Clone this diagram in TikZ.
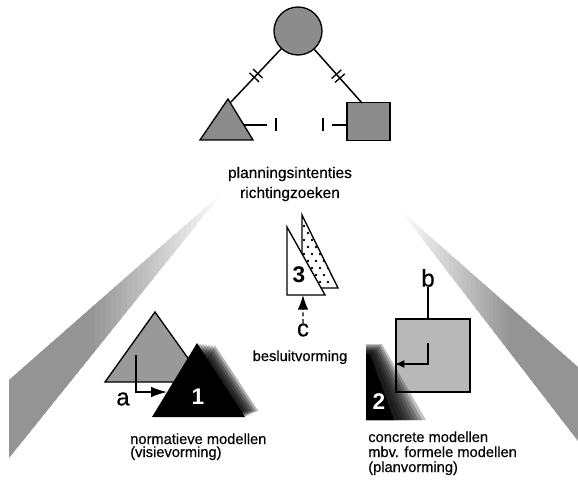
\documentclass[tikz,border=0pt]{standalone}
\usepackage{fontspec}
\setmainfont{Liberation Sans}
\newfontfamily\heavysans{Liberation Sans}[FakeBold=0.4]
\usetikzlibrary{arrows.meta,decorations.markings,calc}

% a wedge of light: apex, then the two corners of its wide end
\newcommand\lightwedge[3]{%
  \foreach \i in {0,...,39}{
    \pgfmathsetmacro\ta{\i/40}
    \pgfmathsetmacro\tb{min(1,(\i+1.4)/40)}
    \pgfmathsetmacro\g{42*min(1,(\i+0.5)/40/0.62)}
    \fill[black!\g] ($(#1)!\ta!(#2)$) -- ($(#1)!\tb!(#2)$) -- ($(#1)!\tb!(#3)$) -- ($(#1)!\ta!(#3)$) -- cycle;
  }}

\begin{document}
\begin{tikzpicture}[x=0.75pt,y=-0.75pt,
  outline/.style={draw=black,line width=1pt,line join=miter},
  link/.style={line width=1.1pt},
  halftone/.style={fill=black!45},
  cut/.style={postaction={decorate},decoration={markings,
      mark=at position 0.5 with {\draw[line width=1pt] (-2.6,-6.5) -- (-2.6,6.5) (2.6,-6.5) -- (2.6,6.5);}}},
  title/.style={font=\heavysans\fontsize{11.6}{14}\selectfont,inner sep=0pt,anchor=base},
  caption/.style={font=\heavysans\fontsize{11}{13}\selectfont,inner sep=0pt,anchor=base west},
  letter/.style={font=\heavysans\fontsize{18}{20}\selectfont,inner sep=0pt},
  digit/.style={font=\fontsize{17}{20}\selectfont\bfseries,inner sep=0pt},
  tip/.style={-{Latex[length=11pt,width=8pt]}}]
\useasboundingbox (0,0) rectangle (578,481);

% light wedges fanning out from the centre
\coordinate (lwA) at (223,192);
\coordinate (lwU) at (9,380);
\coordinate (lwD) at (9,458);
\lightwedge{lwA}{lwU}{lwD}
\coordinate (rwA) at (400,210);
\coordinate (rwU) at (578,367);
\coordinate (rwD) at (578,441);
\lightwedge{rwA}{rwU}{rwD}

% ---- top: whole and its two parts ----
\node[circle,minimum size=36pt,inner sep=0pt,halftone,outline] (whole) at (298,31) {};
\coordinate (tA) at (228,99);
\coordinate (tL) at (200,140);
\coordinate (tR) at (253,140);
\filldraw[halftone,outline] (tA) -- (tL) -- (tR) -- cycle;
\node[rectangle,minimum width=32.25pt,minimum height=28.5pt,inner sep=0pt,halftone,outline]
  (part) at (368.5,121.5) {};

\coordinate (tHit) at (231,102);
\coordinate (sHit) at (362,103);
\draw[link,cut] (whole) -- (tHit);
\draw[link,cut] (whole) -- (sHit);

\coordinate (tSide) at (243,125);
\coordinate (tEnd) at (267,125);
\coordinate (tickL) at (276,125);
\coordinate (tickR) at (323,125);
\coordinate (sStart) at (332,125);
\draw[link] (tSide) -- (tEnd);
\draw[link] ($(tickL)+(0,-6.5)$) -- ($(tickL)+(0,6.5)$);
\draw[link] ($(tickR)+(0,-6.5)$) -- ($(tickR)+(0,6.5)$);
\draw[link] (sStart) -- (sStart -| part.west);

\node[title] (intent) at (290,178) {planningsintenties};
\node[title] (search) at (290,198) {richtingzoeken};

% ---- centre: stacked sheets ----
\coordinate (dA) at (302,215);
\coordinate (dB) at (302,288);
\coordinate (dC) at (338,288);
\filldraw[fill=white,outline] (dA) -- (dB) -- (dC) -- cycle;
\begin{scope}
  \clip (dA) -- (dB) -- (dC) -- cycle;
  \foreach \r in {0,...,10}{
    \foreach \c in {0,...,5}{
      \fill ({304+8*\c+4*mod(\r,2)},{226+7*\r}) circle (1pt);
    }
  }
\end{scope}
\coordinate (fA) at (287,227);
\coordinate (fB) at (287,295);
\coordinate (fC) at (325,295);
\filldraw[fill=white,outline] (fA) -- (fB) -- (fC) -- cycle;
\node[digit] (n3) at (299,275) {3};

\node[letter] (c) at (303,330) {c};
\draw[link,tip,densely dashed] (c.north) -- ($(fB)!0.42!(fC)$);
\node[caption,anchor=base] (decide) at (300,361) {besluitvorming};

% ---- left: normative models ----
\coordinate (gA) at (155,312);
\coordinate (gL) at (105,382);
\coordinate (gR) at (205,382);
\filldraw[fill=black!40,outline] (gA) -- (gL) -- (gR) -- cycle;

\coordinate (kA) at (197,343);
\coordinate (kL) at (152,417);
\coordinate (kR) at (245,417);
% blurred after-image of the dark sheet
\foreach \k in {6,...,1}{
  \fill[black,opacity=0.3] ($(kA)+(3*\k,0.4*\k)$) -- ($(kL)+(4*\k,-\k)$) -- ($(kR)+(2.2*\k,-\k)$) -- cycle;
}
\fill[black] (kA) -- (kL) -- (kR) -- cycle;
\node[digit,text=white] (n1) at (198,397) {1};

\coordinate (aTop) at (136,355);
\coordinate (aEnd) at (167,392);
\draw[link,-{Latex[length=12pt,width=8pt]}] (aTop) |- (aEnd);
\node[letter] (a) at (123,399) {a};

\node[caption] (norm1) at (130,444) {normatieve modellen};
\node[caption] (norm2) at (130,457) {(visievorming)};

% ---- right: concrete models ----
\node[rectangle,minimum width=55.5pt,minimum height=54.75pt,inner sep=0pt,fill=black!28,outline]
  (concrete) at (433,355.5) {};
\node[letter] (b) at (428,278) {b};
\draw[link] (b.south) -- (b.south |- concrete.north);

% blurred dark patch
\foreach \k in {0,...,7}{
  \fill[black,opacity=0.24] (366,{344+1.2*\k}) -- ({382-1.3*\k},{344+1.2*\k}) -- ({426-3.8*\k},420) -- (366,420) -- cycle;
}
\fill[black] (366,354) -- (370,354) -- (394,420) -- (366,420) -- cycle;
\node[digit,text=white] (n2) at (379,402) {2};

\coordinate (bStart) at (428,343);
\coordinate (bEnd) at (395,364);
\draw[link,-{Latex[length=7pt,width=6pt]}] (bStart) |- (bEnd);

\node[caption] (conc1) at (368,442) {concrete modellen};
\node[caption] (conc2) at (368,457) {mbv. formele modellen};
\node[caption] (conc3) at (368,472) {(planvorming)};
\end{tikzpicture}
\end{document}
